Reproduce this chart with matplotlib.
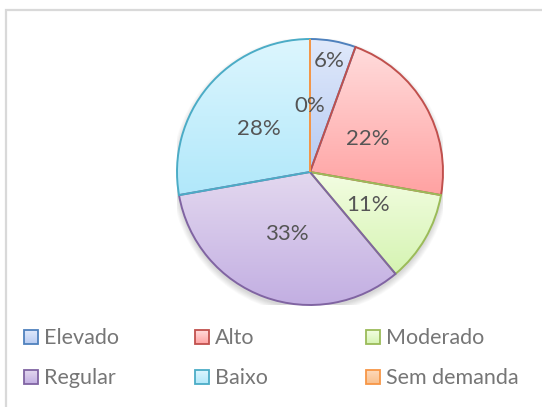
import numpy as np
import matplotlib.pyplot as plt
from matplotlib.colors import LinearSegmentedColormap
from matplotlib.patches import Rectangle, Circle

plt.rcParams['font.family'] = ['Lato', 'DejaVu Sans']

categories = ['Elevado', 'Alto', 'Moderado', 'Regular', 'Baixo', 'Sem demanda']
counts = [1, 4, 2, 6, 5, 0]

# gradient top / bottom, edge colour
fill_top = ['#e0e9fb', '#ffdcdc', '#f3fde2', '#e3d8ef', '#ddf6fe', '#fdd9bb']
fill_bot = ['#b7cbf2', '#ffa2a2', '#d5f4b2', '#c2aee2', '#b1e8fa', '#f9bf8c']
edges = ['#4f81bd', '#c0504d', '#9bbb59', '#8064a2', '#4bacc6', '#f79646']
label_r = [0.85, 0.5, 0.5, 0.5, 0.5, 0.5]
text_col = '#555555'
legend_col = '#767676'

W, H = 542, 407
fig = plt.figure(figsize=(W / 100, H / 100), dpi=100)

# pie axes: centre (310,172) px, radius 133 px
cx, cy, r = 310, 172, 133
ax = fig.add_axes([(cx - r) / W, (H - cy - r) / H, 2 * r / W, 2 * r / H])

total = sum(counts)
wedges, _ = ax.pie(counts, startangle=90, counterclock=False, radius=1,
                   wedgeprops=dict(linewidth=1.4, facecolor='none'))

# soft shadow
for i in range(8):
    ax.add_patch(Circle((0, -0.025), 1.0 + 0.006 * i, color='k', alpha=0.018,
                        zorder=-2, lw=0))
ax.add_patch(Circle((0, 0), 1.0, color='white', zorder=-1, lw=0))

grad = np.linspace(0, 1, 256).reshape(-1, 1)
for w, top, bot, ec in zip(wedges, fill_top, fill_bot, edges):
    w.set_edgecolor(ec)
    verts = w.get_path().vertices
    x0, y0 = verts.min(axis=0)
    x1, y1 = verts.max(axis=0)
    if x1 - x0 < 1e-6:
        continue
    cmap = LinearSegmentedColormap.from_list('g', [top, bot])
    im = ax.imshow(grad, extent=[x0, x1, y0, y1], origin='upper', cmap=cmap,
                   aspect='auto', zorder=0, interpolation='bilinear')
    im.set_clip_path(w)

for w, v, lr in zip(wedges, counts, label_r):
    mid = np.deg2rad((w.theta1 + w.theta2) / 2)
    pct = round(v / total * 100)
    ax.text(lr * np.cos(mid), lr * np.sin(mid), f'{pct}%', ha='center',
            va='center', fontsize=16, color=text_col)

ax.set_xlim(-1, 1)
ax.set_ylim(-1, 1)
ax.set_aspect('equal')
ax.axis('off')

# overlay in pixel coordinates for frame and legend
ov = fig.add_axes([0, 0, 1, 1], zorder=-5)
ov.set_xlim(0, W)
ov.set_ylim(H, 0)
ov.axis('off')
ov.plot([6, 6, W + 5], [H + 5, 10, 10], color='#d9d9d9', lw=1.6,
        solid_joinstyle='miter')

leg_x = [24, 195, 366]
leg_y = [337, 377]
for i, (name, top, bot, ec) in enumerate(zip(categories, fill_top, fill_bot, edges)):
    col, row = i % 3, i // 3
    x, y = leg_x[col], leg_y[row]
    sq = 14
    cmap = LinearSegmentedColormap.from_list('g', [top, bot])
    ov.imshow(grad, extent=[x, x + sq, y + sq / 2, y - sq / 2], origin='upper',
              cmap=cmap, aspect='auto', zorder=1)
    ov.add_patch(Rectangle((x, y - sq / 2), sq, sq, facecolor='none',
                           edgecolor=ec, lw=1.3, zorder=2))
    ov.text(x + sq + 6, y + 7.5, name, ha='left', va='baseline', fontsize=15.5,
            color=legend_col)
ov.set_xlim(0, W)
ov.set_ylim(H, 0)

fig.savefig('out.png', dpi=100, facecolor='white')
